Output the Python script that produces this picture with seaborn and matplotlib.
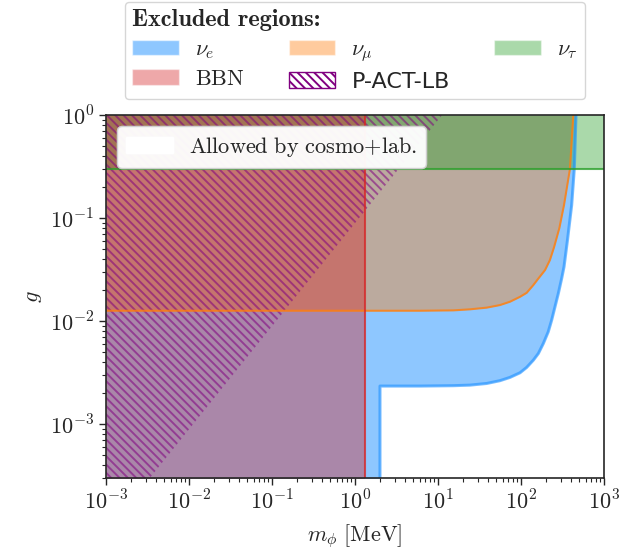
import numpy as np
import pandas as pd
import matplotlib
matplotlib.use("Agg")
import matplotlib.pyplot as plt
import seaborn as sns
from matplotlib.patches import Patch
from matplotlib.ticker import FuncFormatter, LogLocator, NullFormatter
from matplotlib.font_manager import FontProperties

# ---------------- data ----------------
G_MIN, G_MAX = 3.0e-4, 1.0
M_MIN, M_MAX = 1e-3, 1e3

# nu_e excluded region: wall at m = 2 MeV, then lower boundary curve
nu_e_wall_m = 2.0
nu_e_m = [2.0, 6.07, 15.3, 24.3, 38.6, 55.8, 73.6, 97.3, 117, 141, 162, 186, 213,
          234, 257, 282, 309, 330, 363, 408, 439, 460]
nu_e_g = [2.34e-3, 2.34e-3, 2.36e-3, 2.39e-3, 2.48e-3, 2.64e-3, 2.84e-3, 3.15e-3,
          3.55e-3, 4.18e-3, 4.85e-3, 6.07e-3, 7.87e-3, 1.02e-2, 1.38e-2, 1.86e-2,
          2.59e-2, 3.37e-2, 6.1e-2, 0.134, 0.303, 1.0]

# nu_mu excluded region boundary
nu_mu_m = [1e-3, 6.07, 15.3, 24.3, 38.6, 55.8, 73.6, 97.3, 117, 141, 162, 195, 223,
           250, 290, 330, 389, 427]
nu_mu_g = [1.26e-2, 1.26e-2, 1.27e-2, 1.30e-2, 1.35e-2, 1.43e-2, 1.54e-2, 1.72e-2,
           1.88e-2, 2.24e-2, 2.59e-2, 3.13e-2, 3.91e-2, 5.2e-2, 8.0e-2, 0.134,
           0.30, 1.0]

# nu_tau excluded region: g above
nu_tau_g = 0.30

# BBN: m below
bbn_m = 1.32

# P-ACT-LB boundary line
pact_m = [1e-3, 11.2]
pact_g = [8.9e-5, 1.0]

tick_x = [1e-3, 1e-2, 1e-1, 1e0, 1e1, 1e2, 1e3]
tick_y = [1e-3, 1e-2, 1e-1, 1e0]

# ---------------- style ----------------
sns.set_style("ticks")
plt.rcParams.update({
    "mathtext.fontset": "cm",
    "font.family": ["DejaVu Sans"],
    "font.size": 16,
    "hatch.linewidth": 1.4,
    "axes.linewidth": 1.2,
})

C_E = "dodgerblue"
C_MU = "tab:orange"
C_TAU = "tab:green"
C_BBN = "tab:red"
C_PACT = "purple"
HATCH = "\\" * 4

fig = plt.figure(figsize=(6.44, 5.52), dpi=100)
ax = fig.add_axes([106 / 644, 1 - 478 / 552, 498 / 644, 363 / 552])
ax.set_xscale("log")
ax.set_yscale("log")

g_low = G_MIN * 0.3

# nu_e
e_fill_m = [M_MIN, nu_e_wall_m] + nu_e_m
e_fill_g = [g_low, g_low] + nu_e_g
ax.fill_between(e_fill_m, e_fill_g, G_MAX, color=C_E, alpha=0.5, lw=0)
e_line = pd.DataFrame({"m": [nu_e_wall_m] + nu_e_m, "g": [g_low] + nu_e_g})
sns.lineplot(data=e_line, x="m", y="g", sort=False, estimator=None, ax=ax,
             color=C_E, lw=2.2, alpha=0.6)

# nu_mu
ax.fill_between(nu_mu_m, nu_mu_g, G_MAX, color=C_MU, alpha=0.4, lw=0)
mu_line = pd.DataFrame({"m": nu_mu_m, "g": nu_mu_g})
sns.lineplot(data=mu_line, x="m", y="g", sort=False, estimator=None, ax=ax,
             color=C_MU, lw=1.5, alpha=0.8)

# nu_tau
ax.fill_between([M_MIN, M_MAX], nu_tau_g, G_MAX, color=C_TAU, alpha=0.4, lw=0)
tau_line = pd.DataFrame({"m": [M_MIN, M_MAX], "g": [nu_tau_g, nu_tau_g]})
sns.lineplot(data=tau_line, x="m", y="g", sort=False, estimator=None, ax=ax,
             color=C_TAU, lw=1.5, alpha=0.8)

# BBN
ax.fill_between([M_MIN, bbn_m], g_low, G_MAX, color=C_BBN, alpha=0.4, lw=0)
bbn_line = pd.DataFrame({"m": [bbn_m, bbn_m], "g": [g_low, G_MAX]})
sns.lineplot(data=bbn_line, x="m", y="g", sort=False, estimator=None, ax=ax,
             color=C_BBN, lw=1.5, alpha=0.8)

# P-ACT-LB hatched
ax.fill_between(pact_m, pact_g, G_MAX, facecolor="none", edgecolor=C_PACT,
                hatch=HATCH, lw=0, alpha=0.55)

ax.set_xlim(M_MIN, M_MAX)
ax.set_ylim(G_MIN, G_MAX)

fmt = FuncFormatter(lambda v, p: r"$10^{%d}$" % int(round(np.log10(v))))
ax.set_xticks(tick_x)
ax.set_yticks(tick_y)
ax.xaxis.set_major_formatter(fmt)
ax.yaxis.set_major_formatter(fmt)
ax.xaxis.set_minor_locator(LogLocator(base=10, subs=np.arange(2, 10), numticks=50))
ax.yaxis.set_minor_locator(LogLocator(base=10, subs=np.arange(2, 10), numticks=50))
ax.xaxis.set_minor_formatter(NullFormatter())
ax.yaxis.set_minor_formatter(NullFormatter())
ax.tick_params(which="major", direction="out", length=5, width=1.0, labelsize=16,
               top=False, right=False)
ax.tick_params(which="minor", direction="out", length=3, width=0.8,
               top=False, right=False)
ax.set_xlabel(r"$m_\phi\ [\mathrm{MeV}]$", fontsize=16, labelpad=6)
ax.set_ylabel(r"$g$", fontsize=16)

# inner legend
inner = ax.legend(handles=[Patch(facecolor="white", edgecolor="white",
                                 label=r"$\mathrm{Allowed\ by\ cosmo{+}lab.}$")],
                  loc="upper left", fontsize=16, handlelength=2.1, handletextpad=0.72)
ax.add_artist(inner)

# outer legend
handles = [
    Patch(facecolor=C_E, alpha=0.5, label=r"$\nu_e$"),
    Patch(facecolor=C_BBN, alpha=0.4, label=r"$\mathrm{BBN}$"),
    Patch(facecolor=C_MU, alpha=0.4, label=r"$\nu_\mu$"),
    Patch(facecolor="white", edgecolor=C_PACT, hatch=HATCH, label="P-ACT-LB"),
    Patch(facecolor=C_TAU, alpha=0.4, label=r"$\nu_\tau$"),
]
fig.legend(handles=handles, ncol=3, loc="upper center",
           bbox_to_anchor=(355 / 644, 1 - 2 / 552), borderaxespad=0,
           title="Excluded regions:",
           title_fontproperties=FontProperties(family="cmb10", size=17.5),
           alignment="left", fontsize=16, handlelength=2.1, handletextpad=0.72,
           columnspacing=2.0, labelspacing=0.36, borderpad=0.32)

fig.savefig("out.png", dpi=100)
